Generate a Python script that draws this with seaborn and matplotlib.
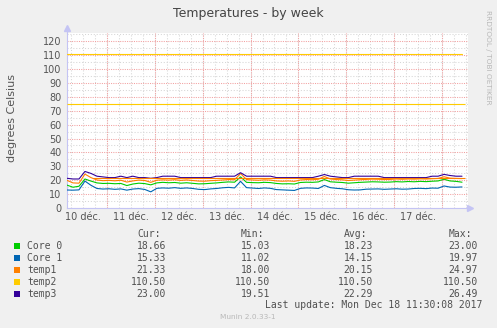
import numpy as np
import pandas as pd
import matplotlib
matplotlib.use("Agg")
import matplotlib.pyplot as plt
import matplotlib.dates as mdates
from matplotlib.patches import Rectangle
from matplotlib.ticker import MultipleLocator
import seaborn as sns

# ---------------- data ----------------
times = pd.date_range("2017-12-10 04:00", periods=67, freq="3h")

core0 = [16.6, 15.1, 15.8, 21.0, 19.5, 18.2, 17.8, 17.9, 17.6, 17.8,
         16.3, 17.4, 18.0, 17.7, 16.8, 18.2, 18.6, 18.3, 18.5, 18.0,
         18.3, 17.9, 17.5, 17.6, 17.9, 18.2, 18.6, 18.9, 18.7, 22.5,
         18.6, 18.4, 18.3, 18.6, 18.4, 17.8, 17.5, 17.6, 17.4, 18.5,
         18.7, 18.6, 18.9, 20.6, 19.0, 18.7, 18.5, 18.0, 18.3, 18.6,
         18.8, 19.0, 18.9, 18.7, 18.8, 19.1, 18.9, 19.2, 19.0, 19.3,
         19.1, 19.4, 19.6, 20.8, 19.6, 19.3, 18.7]
core1 = [13.1, 13.0, 13.2, 19.5, 16.5, 14.2, 13.8, 14.0, 13.6, 13.9,
         13.0, 13.8, 14.1, 13.5, 11.8, 14.3, 14.6, 14.4, 14.8, 14.3,
         14.6, 14.2, 13.6, 13.4, 13.9, 14.2, 14.7, 15.0, 14.6, 19.3,
         14.8, 14.5, 14.2, 14.6, 14.3, 13.4, 13.2, 13.0, 12.8, 14.3,
         14.6, 14.5, 14.2, 16.4, 14.8, 14.3, 14.0, 13.3, 13.1, 13.2,
         13.7, 13.8, 13.9, 13.6, 13.8, 14.0, 13.7, 13.8, 14.2, 14.3,
         14.1, 14.5, 14.4, 16.0, 15.2, 15.1, 15.3]
temp1 = [20.0, 18.2, 18.0, 24.5, 22.0, 20.3, 19.8, 20.0, 19.7, 20.1,
         18.8, 19.6, 20.2, 19.9, 18.6, 20.1, 20.4, 20.2, 20.5, 20.0,
         20.3, 19.9, 19.5, 19.4, 19.8, 20.0, 20.3, 20.6, 20.5, 24.9,
         20.6, 20.3, 20.1, 20.4, 20.2, 19.6, 19.4, 19.6, 19.3, 20.3,
         20.6, 20.5, 20.8, 22.8, 21.0, 20.6, 20.4, 19.9, 20.2, 20.5,
         20.7, 20.9, 20.8, 20.6, 20.7, 21.0, 20.8, 21.0, 20.9, 21.1,
         21.0, 21.2, 21.4, 22.6, 21.6, 21.4, 21.3]
temp2 = [110.5] * len(times)
temp3 = [21.5, 21.0, 21.0, 26.4, 25.0, 23.0, 22.5, 22.0, 22.0, 23.0,
         22.0, 23.0, 22.0, 22.0, 21.5, 22.0, 23.0, 23.0, 23.0, 22.0,
         22.0, 22.0, 22.0, 22.0, 22.0, 23.0, 23.0, 23.0, 23.0, 25.5,
         23.0, 23.0, 23.0, 23.0, 23.0, 22.0, 22.0, 22.0, 22.0, 22.0,
         22.0, 22.0, 23.0, 24.2, 23.0, 22.5, 22.0, 22.0, 23.0, 23.0,
         23.0, 23.0, 23.0, 22.0, 22.0, 22.0, 22.0, 22.0, 22.0, 22.0,
         22.0, 23.0, 23.0, 24.3, 23.5, 23.0, 23.0]

names = ["Core 0", "Core 1", "temp1", "temp2", "temp3"]
colors = ["#00cc00", "#0066b3", "#ff8000", "#ffcc00", "#330099"]
cur = [18.66, 15.33, 21.33, 110.50, 23.00]
mins = [15.03, 11.02, 18.00, 110.50, 19.51]
avgs = [18.23, 14.15, 20.15, 110.50, 22.29]
maxs = [23.00, 19.97, 24.97, 110.50, 26.49]

ref_levels = [75.0, 22.0]
ref_colors = ["#ffcc00", "#ff8000"]
ref_starts = ["2017-12-10 04:00", "2017-12-10 17:00"]
ref_end = "2017-12-18 11:30"

day_labels = ["10 déc.", "11 déc.", "12 déc.", "13 déc.",
              "14 déc.", "15 déc.", "16 déc.", "17 déc."]
label_times = pd.date_range("2017-12-10 12:00", periods=8, freq="D")
midnights = pd.date_range("2017-12-11 00:00", periods=8, freq="D")
x_start = pd.Timestamp("2017-12-10 04:00")
x_end = pd.Timestamp("2017-12-18 13:00")

# ---------------- figure ----------------
sns.set_theme(style="white")
plt.rcParams["font.family"] = ["DejaVu Sans"]

W, H = 497, 328
fig = plt.figure(figsize=(W / 100, H / 100), dpi=100, facecolor="#f0f0f0")
ax = fig.add_axes([67 / W, (H - 208.3) / H, 401 / W, 175.3 / H])
ax.set_facecolor("white")

series = [core0, core1, temp1, temp2, temp3]
df = pd.concat([pd.DataFrame({"time": times, "value": s, "series": n})
                for n, s in zip(names, series)], ignore_index=True)
sns.lineplot(data=df, x="time", y="value", hue="series", hue_order=names,
             palette=dict(zip(names, colors)), legend=False, linewidth=0.8,
             estimator=None, ax=ax, zorder=3)

for lvl, c, s in zip(ref_levels, ref_colors, ref_starts):
    ax.hlines(lvl, pd.Timestamp(s), pd.Timestamp(ref_end), colors=c,
              linewidth=0.8, zorder=4)

ax.set_xlim(x_start, x_end)
ax.set_ylim(0, 125.6)

# grid
ax.set_axisbelow(True)
ax.set_yticks(np.arange(0, 121, 10))
ax.yaxis.set_minor_locator(MultipleLocator(5))
ax.set_xticks(label_times)
ax.set_xticklabels(day_labels)
ax.xaxis.set_minor_locator(mdates.HourLocator(byhour=[0, 6, 12, 18]))
ax.xaxis.remove_overlapping_locs = False
ax.grid(False)
ax.yaxis.grid(True, which="major", color="#f2a0a0", linestyle=(0, (1, 1.2)), linewidth=0.75)
ax.yaxis.grid(True, which="minor", color="#d6d6d6", linestyle=(0, (1, 1.8)), linewidth=0.75)
ax.xaxis.grid(True, which="minor", color="#d6d6d6", linestyle=(0, (1, 1.8)), linewidth=0.75)
for m in midnights:
    ax.axvline(m, color="#f2a0a0", linestyle=(0, (1, 1.2)), linewidth=0.75, zorder=1.5)

ax.tick_params(axis="both", which="both", length=0, labelsize=7, colors="#555555")
ax.tick_params(axis="y", pad=4)
ax.tick_params(axis="x", pad=3)
ax.set_xlabel("")
ax.set_ylabel("")

for sp in ["top", "right"]:
    ax.spines[sp].set_visible(False)
for sp in ["left", "bottom"]:
    ax.spines[sp].set_color("#c4c4f4")
    ax.spines[sp].set_linewidth(0.8)
ax.plot([0, 0], [1, 1.03], color="#c4c4f4", lw=0.8, transform=ax.transAxes, clip_on=False)
ax.plot([0], [1.03], marker="^", ms=4, color="#c4c4f4", transform=ax.transAxes, clip_on=False)
ax.plot([1, 1.005], [0, 0], color="#c4c4f4", lw=0.8, transform=ax.transAxes, clip_on=False)
ax.plot([1.005], [0], marker=">", ms=4, color="#c4c4f4", transform=ax.transAxes, clip_on=False)

# texts
def fy(y):
    return 1 - y / H

fig.text(0.5, fy(14), "Temperatures - by week", ha="center", va="center",
         fontsize=9, color="#444444")
fig.text(12 / W, fy(118), "degrees Celsius", rotation=90, ha="center",
         va="center", fontsize=8, color="#555555")
fig.text(488 / W, fy(57), "RRDTOOL / TOBI OETIKER", rotation=270, ha="center",
         va="center", fontsize=5.3, color="#b8b8b8")

mono = dict(family="DejaVu Sans Mono", fontsize=7, color="#505050", va="center")
headers = ["Cur:", "Min:", "Avg:", "Max:"]
header_x = [137, 241, 344, 449]
value_x = [166, 270, 373, 478]
for h, x in zip(headers, header_x):
    fig.text(x / W, fy(234), h, ha="left", **mono)
row_y = [246, 258, 270, 282, 294]
for i, n in enumerate(names):
    y = row_y[i]
    fig.add_artist(Rectangle((14 / W, fy(y + 3)), 6 / W, 6 / H,
                             transform=fig.transFigure, facecolor=colors[i],
                             edgecolor="none"))
    fig.text(27 / W, fy(y), n, ha="left", **mono)
    for vals, x in zip([cur, mins, avgs, maxs], value_x):
        fig.text(x / W, fy(y), f"{vals[i]:.2f}", ha="right", **mono)
fig.text(482 / W, fy(305.5), "Last update: Mon Dec 18 11:30:08 2017", ha="right", **mono)
fig.text(248 / W, fy(317), "Munin 2.0.33-1", ha="center", va="center",
         fontsize=5.3, color="#b8b8b8")

fig.savefig("out.png", dpi=100, facecolor=fig.get_facecolor())
